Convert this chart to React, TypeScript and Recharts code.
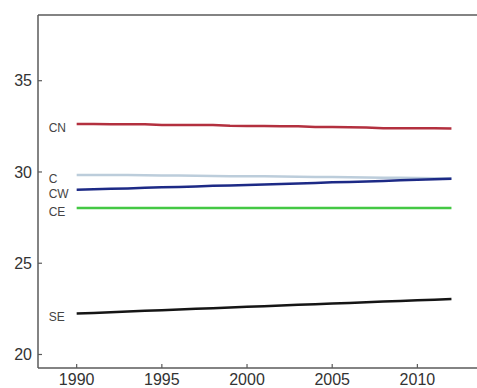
import React from "react";
import { LineChart, Line, XAxis, YAxis, ReferenceLine } from "recharts";

const years = [1990, 1991, 1992, 1993, 1994, 1995, 1996, 1997, 1998, 1999, 2000, 2001, 2002, 2003, 2004, 2005, 2006, 2007, 2008, 2009, 2010, 2011, 2012];
const cn = [32.63, 32.63, 32.62, 32.62, 32.61, 32.58, 32.58, 32.57, 32.57, 32.53, 32.52, 32.52, 32.51, 32.5, 32.46, 32.46, 32.45, 32.44, 32.4, 32.4, 32.39, 32.39, 32.38];
const c = [29.84, 29.84, 29.83, 29.83, 29.82, 29.81, 29.8, 29.79, 29.78, 29.77, 29.76, 29.76, 29.75, 29.74, 29.73, 29.72, 29.71, 29.7, 29.69, 29.68, 29.67, 29.66, 29.65];
const cw = [29.03, 29.05, 29.08, 29.1, 29.13, 29.16, 29.18, 29.21, 29.24, 29.26, 29.29, 29.32, 29.34, 29.37, 29.4, 29.43, 29.45, 29.48, 29.51, 29.54, 29.57, 29.6, 29.63];
const ce = [28.02, 28.02, 28.02, 28.02, 28.02, 28.02, 28.02, 28.02, 28.02, 28.02, 28.02, 28.02, 28.02, 28.02, 28.02, 28.02, 28.02, 28.02, 28.02, 28.02, 28.02, 28.02, 28.02];
const se = [22.25, 22.28, 22.32, 22.35, 22.39, 22.43, 22.46, 22.5, 22.53, 22.57, 22.61, 22.64, 22.68, 22.72, 22.75, 22.79, 22.82, 22.86, 22.9, 22.93, 22.97, 23.0, 23.04];

const xTicks = [1990, 1995, 2000, 2005, 2010];
const yTicks = [20, 25, 30, 35];
const yDomain: [number, number] = [19.26, 38.6];

const data = years.map((y, i) => ({ year: y, CN: cn[i], C: c[i], CW: cw[i], CE: ce[i], SE: se[i] }));

const series = [
  { key: "CN", color: "#b3303f" },
  { key: "C", color: "#bccddb" },
  { key: "CW", color: "#1d2a86" },
  { key: "CE", color: "#44c844" },
  { key: "SE", color: "#151515" },
];

const makeLabel = (name: string) => (props: any) => {
  const { x, y, index } = props;
  if (index !== 0) return null;
  return (
    <text
      key={name}
      x={x - 28}
      y={y + 8}
      textAnchor="start"
      fontSize={12}
      fill="#444"
      fontFamily="Liberation Sans, Arial, sans-serif"
    >
      {name}
    </text>
  );
};

const axisStroke = "#5a5a5a";
const tickStyle = { fontSize: 16, fill: "#333", fontFamily: "Liberation Sans, Arial, sans-serif" };

export default function App() {
  return (
    <div style={{ position: "absolute", left: 0, top: 0, background: "#fff" }}>
      <LineChart width={477} height={388} data={data} margin={{ top: 15, right: 0, bottom: 0, left: 0 }}>
        <XAxis
          dataKey="year"
          type="number"
          domain={[1987.73, 2013.5]}
          allowDataOverflow
          ticks={xTicks}
          tickSize={-4}
          tickMargin={10}
          height={20}
          interval={0}
          stroke={axisStroke}
          axisLine={{ stroke: axisStroke, strokeWidth: 1.5 }}
          tickLine={{ stroke: axisStroke, strokeWidth: 1.2 }}
          tick={tickStyle}
        />
        <YAxis
          type="number"
          domain={yDomain}
          allowDataOverflow
          ticks={yTicks}
          tickSize={-4}
          tickMargin={10}
          width={38}
          interval={0}
          stroke={axisStroke}
          axisLine={{ stroke: axisStroke, strokeWidth: 1.5 }}
          tickLine={{ stroke: axisStroke, strokeWidth: 1.2 }}
          tick={tickStyle}
        />
        <ReferenceLine y={yDomain[1]} stroke={axisStroke} strokeWidth={1.5} />
        {series.map((s) => (
          <Line
            key={s.key}
            dataKey={s.key}
            stroke={s.color}
            strokeWidth={2.5}
            dot={false}
            activeDot={false}
            type="linear"
            isAnimationActive={false}
            label={makeLabel(s.key)}
          />
        ))}
      </LineChart>
    </div>
  );
}
